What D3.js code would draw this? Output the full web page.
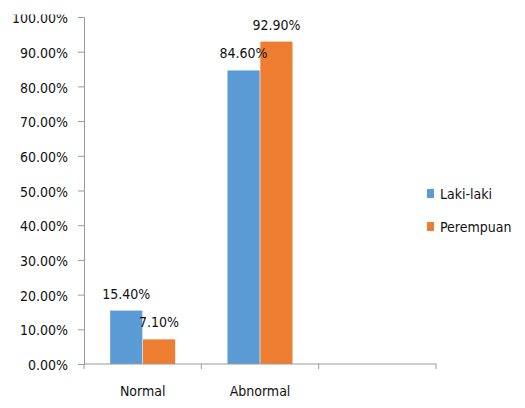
<!DOCTYPE html>
<html>
<head>
<meta charset="utf-8">
<script src="https://cdn.jsdelivr.net/npm/d3@7"></script>
<style>
  html, body { margin: 0; padding: 0; background: #fff; }
  svg { display: block; }
  text { font-family: "DejaVu Sans Condensed", "DejaVu Sans", sans-serif; font-stretch: condensed; fill: #111; }
</style>
</head>
<body>
<svg id="chart" width="525" height="408"></svg>
<script>
// Categories on the x axis (the third slot is left empty)
const categories = ["Normal", "Abnormal", ""];
// Series
const seriesNames = ["Laki-laki", "Perempuan"];
const lakiLaki = [15.4, 84.6];
const perempuan = [7.1, 92.9];
const seriesColors = ["#5B9BD5", "#ED7D31"];
// Y ticks (percent)
const yTicks = [0, 10, 20, 30, 40, 50, 60, 70, 80, 90, 100];

const svg = d3.select("#chart");
const plotLeft = 84, plotRight = 436, plotTop = 17, plotBottom = 364;
const axisColor = "#9a9a9a";
const fontSize = 14;

const x0 = d3.scaleBand().domain(categories).range([plotLeft, plotRight]).padding(0);
const y = d3.scaleLinear().domain([0, 100]).range([plotBottom, plotTop]);
const groupWidth = 65;
const x1 = d3.scaleBand().domain(seriesNames).range([0, groupWidth]).paddingInner(0.02);

const seriesValues = [lakiLaki, perempuan];
const rows = categories.slice(0, 2).map((c, i) => ({
  cat: c,
  vals: seriesNames.map((s, j) => ({ name: s, value: seriesValues[j][i], color: seriesColors[j] }))
}));

const fmt = v => v.toFixed(2) + "%";

// Y axis
const yAxis = d3.axisLeft(y).tickValues(yTicks).tickSize(6).tickPadding(10).tickFormat(fmt);
const gy = svg.append("g").attr("transform", `translate(${plotLeft},0)`).call(yAxis);
gy.attr("font-family", null).attr("font-size", null);
gy.select(".domain").attr("stroke", axisColor);
gy.selectAll(".tick line").attr("stroke", axisColor);
gy.selectAll(".tick text")
  .attr("font-size", fontSize)
  .attr("fill", "#111")
  .attr("dy", "0.4em");

// Bars
const groups = svg.append("g").selectAll("g").data(rows).join("g")
  .attr("transform", d => `translate(${x0(d.cat) + x0.bandwidth() / 2 - groupWidth / 2},0)`);

groups.selectAll("rect").data(d => d.vals).join("rect")
  .attr("x", d => x1(d.name))
  .attr("y", d => y(d.value))
  .attr("width", x1.bandwidth())
  .attr("height", d => y(0) - y(d.value))
  .attr("fill", d => d.color);

// Value labels
groups.selectAll("text").data(d => d.vals).join("text")
  .attr("x", d => x1(d.name) + x1.bandwidth() / 2)
  .attr("y", d => y(d.value) - 12)
  .attr("text-anchor", "middle")
  .attr("font-size", fontSize)
  .text(d => fmt(d.value));

// X axis
const xAxis = d3.axisBottom(x0).tickSize(0).tickPadding(0);
const gx = svg.append("g").attr("transform", `translate(0,${plotBottom})`).call(xAxis);
gx.attr("font-family", null).attr("font-size", null);
gx.select(".domain").remove();
gx.selectAll(".tick").remove();
gx.append("line").attr("x1", plotLeft).attr("x2", plotRight).attr("stroke", axisColor);
// boundary ticks between categories
const boundaries = categories.map(c => x0(c)).concat([plotRight]);
gx.selectAll("line.bnd").data(boundaries).join("line")
  .attr("class", "bnd")
  .attr("x1", d => d).attr("x2", d => d)
  .attr("y1", 0).attr("y2", 5)
  .attr("stroke", axisColor);
gx.selectAll("text.cat").data(categories).join("text")
  .attr("class", "cat")
  .attr("x", d => x0(d) + x0.bandwidth() / 2)
  .attr("y", 32)
  .attr("text-anchor", "middle")
  .attr("font-size", fontSize)
  .text(d => d);

// Legend
const legend = svg.append("g").attr("transform", "translate(427,189)");
const li = legend.selectAll("g").data(seriesNames).join("g")
  .attr("transform", (d, i) => `translate(0,${i * 33})`);
li.append("rect").attr("width", 7).attr("height", 9)
  .attr("fill", (d, i) => seriesColors[i]);
li.append("text").attr("x", 13).attr("y", 10)
  .attr("font-size", fontSize)
  .text(d => d);

// Top edge of the plot area is trimmed
svg.append("rect").attr("x", 0).attr("y", 0).attr("width", 525).attr("height", 14.5).attr("fill", "#fff");
</script>
</body>
</html>
